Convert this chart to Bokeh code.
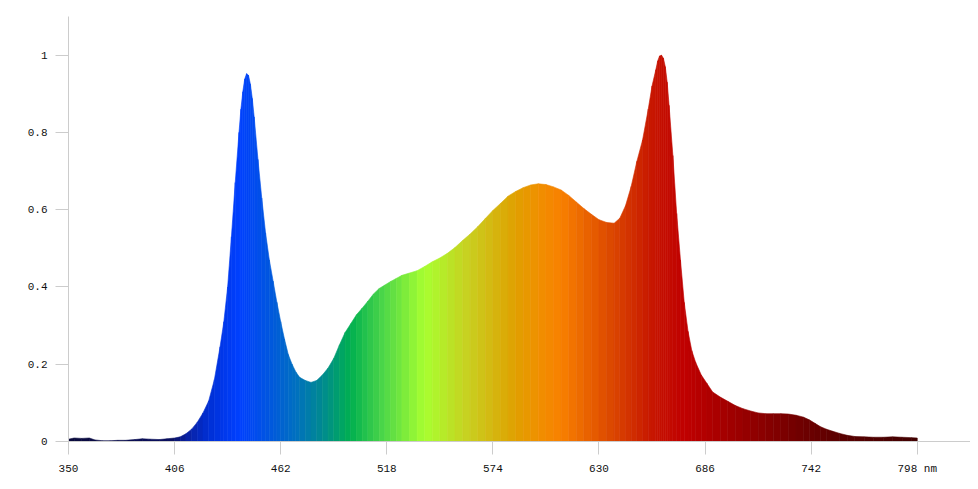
import numpy as np
from bokeh.plotting import figure
from bokeh.models import FixedTicker, Range1d, ColumnDataSource
from bokeh.embed import file_html
from bokeh.resources import INLINE

# Spectrum samples (nm, relative intensity)
wavelength = [350, 353, 357, 361, 364, 368, 372, 376, 380, 385, 389, 393, 398, 402, 406,
              409, 412, 415, 418, 421, 424, 427, 430, 432, 434, 436, 438, 440, 441, 442, 443, 444,
              445, 446, 447, 448, 450, 452, 454, 456, 458, 460, 462, 464, 466, 468, 470, 472, 475,
              478, 481, 484, 487, 490, 493, 496, 499, 502, 505, 508, 511, 514, 517, 520,
              523, 526, 530, 534, 538, 542, 546, 550, 554, 558, 562, 566, 570, 574, 578,
              582, 586, 590, 594, 598, 602, 606, 610, 614, 618, 622, 626, 630, 634, 638,
              641, 644, 647, 650, 653, 656, 658, 660, 661, 662, 663, 664, 665, 666, 667, 669, 671,
              673, 675, 677, 679, 681, 684, 687, 690, 694, 698, 702, 706, 710, 714, 718,
              722, 726, 730, 734, 738, 741, 744, 747, 750, 753, 757, 761, 765, 770, 775,
              780, 785, 790, 795, 798]
intensity = [0.006, 0.009, 0.008, 0.009, 0.004, 0.002, 0.002, 0.003, 0.003, 0.005, 0.007, 0.006, 0.005, 0.007, 0.009,
             0.012, 0.020, 0.032, 0.050, 0.074, 0.105, 0.160, 0.245, 0.310, 0.400, 0.530, 0.670, 0.800, 0.860, 0.905, 0.938, 0.952,
             0.948, 0.925, 0.888, 0.840, 0.730, 0.630, 0.540, 0.470, 0.415, 0.360, 0.310, 0.265, 0.225, 0.200, 0.180, 0.166, 0.158,
             0.153, 0.158, 0.172, 0.190, 0.215, 0.250, 0.282, 0.305, 0.328, 0.345, 0.363, 0.382, 0.396, 0.405, 0.414,
             0.422, 0.430, 0.436, 0.442, 0.453, 0.465, 0.475, 0.487, 0.502, 0.520, 0.537, 0.556, 0.577, 0.598, 0.616,
             0.635, 0.647, 0.657, 0.664, 0.667, 0.665, 0.659, 0.651, 0.637, 0.620, 0.603, 0.588, 0.574, 0.567, 0.565,
             0.578, 0.610, 0.660, 0.725, 0.780, 0.860, 0.920, 0.962, 0.985, 0.998, 1.000, 0.992, 0.970, 0.930, 0.870, 0.740, 0.590,
             0.470, 0.360, 0.285, 0.235, 0.205, 0.172, 0.150, 0.128, 0.115, 0.104, 0.093, 0.085, 0.079, 0.074, 0.072,
             0.072, 0.072, 0.071, 0.068, 0.063, 0.056, 0.047, 0.038, 0.032, 0.027, 0.021, 0.016, 0.013, 0.012, 0.011,
             0.011, 0.012, 0.011, 0.010, 0.009]

x_ticks = [350, 406, 462, 518, 574, 630, 686, 742, 798]
x_tick_labels = {798: "798 nm"}
y_ticks = [0, 0.2, 0.4, 0.6, 0.8, 1]
y_tick_labels = {0: "0", 0.2: "0.2", 0.4: "0.4", 0.6: "0.6", 0.8: "0.8", 1: "1"}

# Wavelength-to-colour stops (styling)
color_stop_nm = [350, 405, 412, 425, 440, 452, 470, 484, 499, 517, 538, 561, 586, 598,
                 610, 625, 640, 657, 675, 700, 736, 760, 800]
color_stop_hex = ["#0a0a3c", "#0a1060", "#0a20a0", "#0030d8", "#0040ff", "#0050e8", "#0070c0",
                  "#008a90", "#00b050", "#50d848", "#a8ff30", "#c8d020", "#e0a000", "#f09000",
                  "#f88000", "#e86000", "#d84000", "#c81800", "#c00000", "#a00000", "#700000",
                  "#580000", "#400000"]


def hex_rgb(h):
    return [int(h[i:i + 2], 16) for i in (1, 3, 5)]


stop_rgb = np.array([hex_rgb(h) for h in color_stop_hex], dtype=float)


def color_at(nm):
    r = np.interp(nm, color_stop_nm, stop_rgb[:, 0])
    g = np.interp(nm, color_stop_nm, stop_rgb[:, 1])
    b = np.interp(nm, color_stop_nm, stop_rgb[:, 2])
    return "#%02x%02x%02x" % (int(round(r)), int(round(g)), int(round(b)))


xs, ys, cols = [], [], []
for i in range(len(wavelength) - 1):
    x0, x1 = wavelength[i], wavelength[i + 1]
    y0, y1 = intensity[i], intensity[i + 1]
    xs.append([x0, x0, x1, x1])
    ys.append([0, y0, y1, 0])
    cols.append(color_at((x0 + x1) / 2.0))

src = ColumnDataSource(dict(xs=xs, ys=ys, color=cols))

p = figure(width=970, height=477,
           x_range=Range1d(350, 826.1), y_range=Range1d(0, 1.1),
           output_backend="svg", toolbar_location=None,
           min_border_left=68, min_border_right=0,
           min_border_top=16, min_border_bottom=36)

p.patches("xs", "ys", source=src, fill_color="color", line_color="color", line_width=0.6)

p.xgrid.visible = False
p.ygrid.visible = False
p.outline_line_color = None
p.background_fill_color = "white"
p.border_fill_color = "white"

p.xaxis.ticker = FixedTicker(ticks=x_ticks)
p.yaxis.ticker = FixedTicker(ticks=y_ticks)
p.xaxis.major_label_overrides = x_tick_labels
p.yaxis.major_label_overrides = y_tick_labels

for ax in (p.xaxis[0], p.yaxis[0]):
    ax.axis_line_color = "#cccccc"
    ax.axis_line_width = 1
    ax.major_tick_line_color = "#cccccc"
    ax.major_tick_out = 13
    ax.major_tick_in = 0
    ax.minor_tick_line_color = None
    ax.major_label_text_font = "Liberation Mono"
    ax.major_label_text_font_size = "11px"
    ax.major_label_text_color = "#111111"
    ax.major_label_standoff = 8

open("out.html", "w").write(file_html(p, INLINE))
